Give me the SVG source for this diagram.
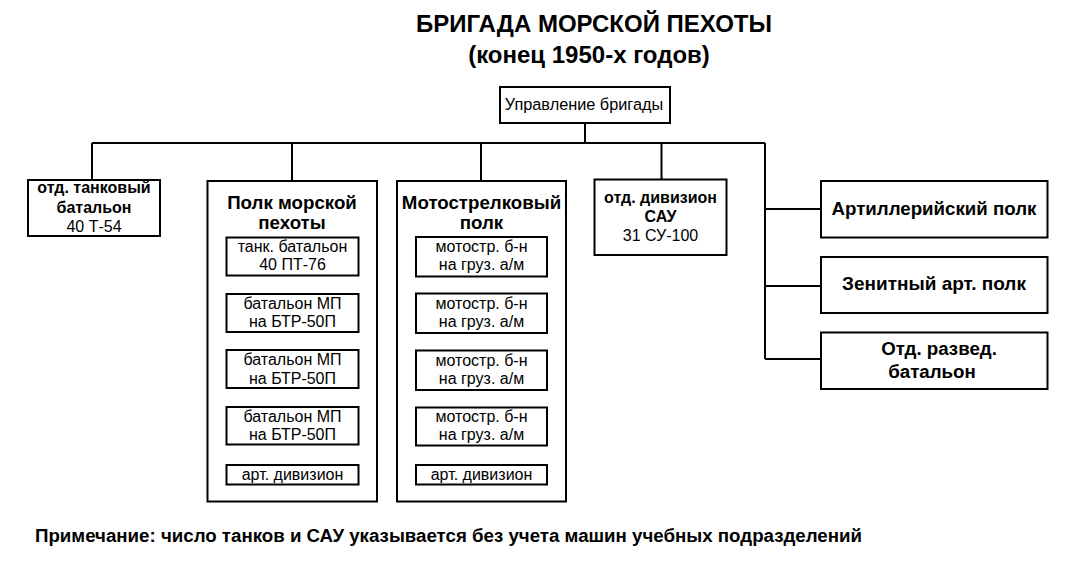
<svg xmlns="http://www.w3.org/2000/svg" width="1069" height="570" viewBox="0 0 1069 570">
<style>
.box{fill:#fff;stroke:#000;stroke-width:2}
.ln{fill:none;stroke:#000;stroke-width:2}
text{font-family:"Liberation Sans",Arial,sans-serif;fill:#000;text-anchor:middle}
.t{font-size:24px;font-weight:bold}
.n16{font-size:16px}
.b16{font-size:16px;font-weight:bold}
.b18{font-size:18.7px;font-weight:bold}
.in{font-size:16px}
.foot{font-size:18.7px;font-weight:bold;text-anchor:start}
</style>
<rect width="1069" height="570" fill="#fff"/>
<g id="title">
<text class="t" x="594" y="32">БРИГАДА МОРСКОЙ ПЕХОТЫ</text>
<text class="t" x="589" y="63">(конец 1950-х годов)</text>
</g>
<g id="connectors">
<path class="ln" d="M585 123V143M92 143H765M92 143V180M292 143V181M481 143V181M661.5 143V179M765 143V359M765 209H821M765 286H821M765 359H821"/>
</g>
<g id="hq">
<rect class="box" x="500" y="87" width="170" height="36"/>
<text class="n16" x="584" y="110" style="font-size:16.3px">Управление бригады</text>
</g>
<g id="tank-bn">
<rect class="box" x="28" y="180" width="132" height="56"/>
<text class="b16" x="94" y="193">отд. танковый</text>
<text class="b16" x="94" y="213">батальон</text>
<text class="n16" x="94" y="232">40 Т-54</text>
</g>
<g id="mp-regiment">
<rect class="box" x="207.5" y="181" width="169.5" height="320.5"/>
<text class="b18" x="292" y="209">Полк морской</text>
<text class="b18" x="292" y="229">пехоты</text>
<rect class="box" x="226.5" y="237.5" width="132" height="38"/>
<text class="in" x="292.5" y="252">танк. батальон</text>
<text class="in" x="292.5" y="270">40 ПТ-76</text>
<rect class="box" x="226.5" y="294" width="132" height="38"/>
<text class="in" x="292.5" y="308.5">батальон МП</text>
<text class="in" x="292.5" y="327">на БТР-50П</text>
<rect class="box" x="226.5" y="350" width="132" height="38"/>
<text class="in" x="292.5" y="365">батальон МП</text>
<text class="in" x="292.5" y="383.5">на БТР-50П</text>
<rect class="box" x="226.5" y="407" width="132" height="37.5"/>
<text class="in" x="292.5" y="421.5">батальон МП</text>
<text class="in" x="292.5" y="439.5">на БТР-50П</text>
<rect class="box" x="226.5" y="465" width="132" height="19.5"/>
<text class="in" x="292.5" y="479.5">арт. дивизион</text>
</g>
<g id="motor-rifle-regiment">
<rect class="box" x="397" y="181" width="169" height="320.5"/>
<text class="b18" x="481.5" y="209">Мотострелковый</text>
<text class="b18" x="481.5" y="229">полк</text>
<rect class="box" x="416" y="237" width="131" height="39.5"/>
<text class="in" x="481.5" y="252">мотостр. б-н</text>
<text class="in" x="481.5" y="270">на груз. а/м</text>
<rect class="box" x="416" y="293.5" width="131" height="39.5"/>
<text class="in" x="481.5" y="308.5">мотостр. б-н</text>
<text class="in" x="481.5" y="327">на груз. а/м</text>
<rect class="box" x="416" y="350.5" width="131" height="39.5"/>
<text class="in" x="481.5" y="365.5">мотостр. б-н</text>
<text class="in" x="481.5" y="384">на груз. а/м</text>
<rect class="box" x="416" y="407.5" width="131" height="38"/>
<text class="in" x="481.5" y="422">мотостр. б-н</text>
<text class="in" x="481.5" y="440">на груз. а/м</text>
<rect class="box" x="416" y="465" width="131" height="19.5"/>
<text class="in" x="481.5" y="479.5">арт. дивизион</text>
</g>
<g id="sau-bn">
<rect class="box" x="594.5" y="179.5" width="132" height="75.5"/>
<text class="b16" x="660.5" y="203">отд. дивизион</text>
<text class="b16" x="660.5" y="222">САУ</text>
<text class="n16" x="660.5" y="241">31 СУ-100</text>
</g>
<g id="art-regiment">
<rect class="box" x="821" y="181" width="226.5" height="56.5"/>
<text class="b18" x="934" y="215">Артиллерийский полк</text>
</g>
<g id="aa-regiment">
<rect class="box" x="821" y="257" width="226.5" height="56"/>
<text class="b18" x="934" y="290" style="font-size:19px">Зенитный арт. полк</text>
</g>
<g id="recon-bn">
<rect class="box" x="821" y="332.5" width="226.5" height="56.5"/>
<text class="b18" x="939" y="355">Отд. развед.</text>
<text class="b18" x="932" y="378">батальон</text>
</g>
<g id="note">
<text class="foot" x="35" y="542">Примечание: число танков и САУ указывается без учета машин учебных подразделений</text>
</g>
</svg>
